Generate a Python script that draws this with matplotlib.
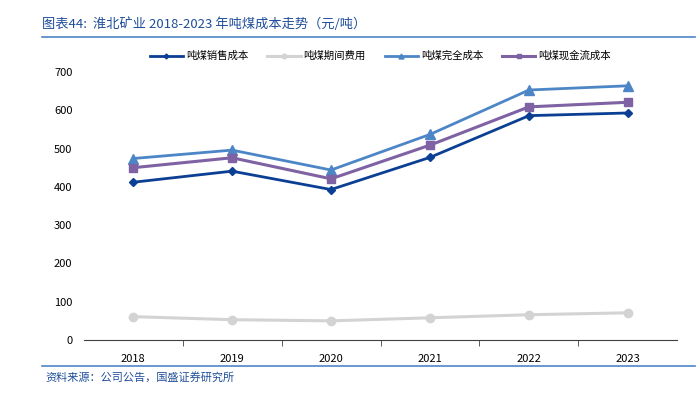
import matplotlib.pyplot as plt
from matplotlib.lines import Line2D

plt.rcParams['font.family'] = ['Noto Sans CJK SC', 'DejaVu Sans']

years = ["2018", "2019", "2020", "2021", "2022", "2023"]
saleCost = [412, 441, 393, 477, 586, 593]
periodFee = [61, 53, 50, 58, 66, 71]
fullCost = [474, 496, 444, 537, 653, 664]
cashCost = [450, 476, 421, 509, 609, 621]

yTicks = [0, 100, 200, 300, 400, 500, 600, 700]

fig = plt.figure(figsize=(6.96, 3.97), dpi=100)
ax = fig.add_axes([0.12, 0.1436, 0.8534, 0.675])

x = list(range(len(years)))
ax.plot(x, saleCost, color='#0B3F94', lw=2, marker='D', ms=4.5, label='吨煤销售成本')
ax.plot(x, periodFee, color='#D3D3D3', lw=2.2, marker='o', ms=6, label='吨煤期间费用')
ax.plot(x, fullCost, color='#4D86C6', lw=2, marker='^', ms=6.5, label='吨煤完全成本')
ax.plot(x, cashCost, color='#7F62A3', lw=2.2, marker='s', ms=6, label='吨煤现金流成本')

ax.set_xlim(-0.5, len(years) - 0.5)
ax.set_ylim(0, 700)
ax.set_yticks(yTicks)
ax.set_yticklabels([str(v) for v in yTicks], fontsize=8)
ax.set_xticks(x)
ax.set_xticklabels(years, fontsize=8)
ax.set_xticks([i + 0.5 for i in range(len(years) - 1)], minor=True)
ax.tick_params(axis='x', which='major', length=0, pad=10)
ax.tick_params(axis='x', which='minor', length=4, color='#404040')
ax.tick_params(axis='y', length=0, pad=8)

for side in ['left', 'right', 'top']:
    ax.spines[side].set_visible(False)
ax.spines['bottom'].set_color('#404040')

ax.legend(loc='center', bbox_to_anchor=(0.5, 1.06), ncol=4, frameon=False,
          fontsize=7.5, handlelength=3.2, handletextpad=0.3, columnspacing=1.8,
          markerscale=0.55)

# title and source
fig.text(0.06, 0.94, '图表44:  淮北矿业 2018-2023 年吨煤成本走势（元/吨）',
         color='#1F4E9A', fontsize=9.5, style='italic', va='center')
fig.add_artist(Line2D([0.06, 0.998], [0.907, 0.907], color='#4D86C6', lw=1.2))
fig.add_artist(Line2D([0.06, 0.998], [0.078, 0.078], color='#4D86C6', lw=1.2))
fig.text(0.065, 0.05, '资料来源：公司公告，国盛证券研究所',
         color='#1F4E9A', fontsize=8, style='italic', va='center')

fig.savefig('out.png', dpi=100)
